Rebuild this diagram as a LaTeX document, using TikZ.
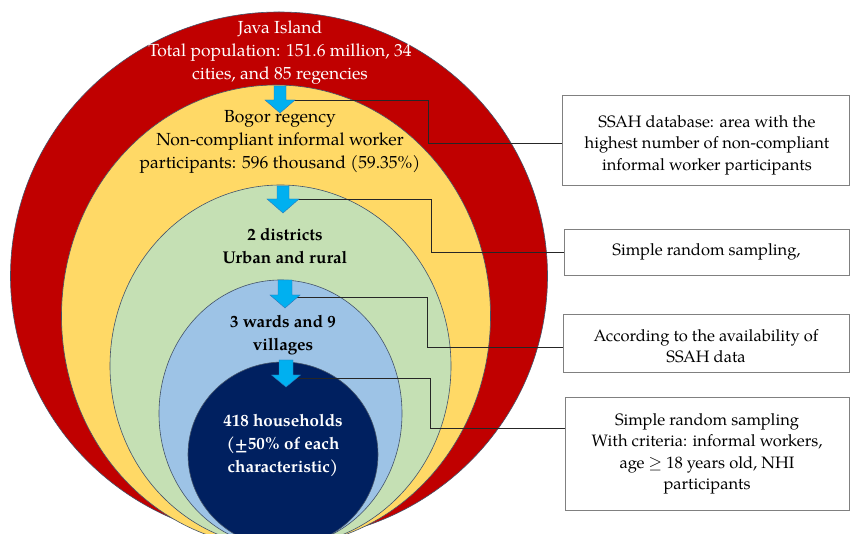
\documentclass[tikz,border=0pt]{standalone}
\usepackage{fontspec}
\setmainfont{TeX Gyre Pagella}
\definecolor{jred}{HTML}{C00000}
\definecolor{jyellow}{HTML}{FFD966}
\definecolor{jgreen}{HTML}{C5E0B4}
\definecolor{jblue}{HTML}{9DC3E6}
\definecolor{jnavy}{HTML}{002060}
\definecolor{jcyan}{HTML}{00B0F0}
\definecolor{jedge}{HTML}{44546A}
\definecolor{jarrowedge}{HTML}{2E75B6}
\newcommand\blockarrow[6]{% cx, top, headstart, tip, shaft half, head half
  \path[downarrow] (#1-#5,#2) -- (#1+#5,#2) -- (#1+#5,#3) -- (#1+#6,#3) -- (#1,#4)
    -- (#1-#6,#3) -- (#1-#5,#3) -- cycle;}
\begin{document}
\begin{tikzpicture}[x=1pt,y=1pt,
  ring/.style={draw=jedge, line width=0.6pt},
  lbl/.style={align=center, font=\fontsize{17.5}{22.8}\selectfont, inner sep=0pt},
  blbl/.style={lbl, font=\bfseries\fontsize{17}{23}\selectfont},
  infobox/.style={draw=black!50, line width=0.9pt, inner sep=0pt},
  boxtext/.style={align=center, font=\fontsize{16.5}{21.5}\selectfont, inner sep=0pt},
  link/.style={draw=black!85, line width=0.7pt},
  downarrow/.style={fill=jcyan, draw=jarrowedge, line width=0.4pt}
]
\useasboundingbox (0,0) rectangle (851,533);
\fill[white] (0,0) rectangle (851,533);
\begin{scope}
\clip (0,0) rectangle (851,533);
\draw[ring, fill=jred]    (279,257)   ellipse [x radius=268.5, y radius=264];
\draw[ring, fill=jyellow] (276,217)   ellipse [x radius=214.5, y radius=231];
\draw[ring, fill=jgreen]  (280.5,167) ellipse [x radius=170.5, y radius=181];
\draw[ring, fill=jblue]   (280.5,119.5) ellipse [x radius=121.5, y radius=133.5];
\draw[ring, fill=jnavy]   (283,78.5)  ellipse [x radius=95, y radius=92.5];
\end{scope}

% labels inside rings
\node[lbl, text=white] (java) at (280,480.5) {Java Island\\Total population: 151.6 million, 34\\cities, and 85 regencies};
\node[lbl] (bogor) at (280,391) {Bogor regency\\Non-compliant informal worker\\participants: 596 thousand (59.35\%)};
\node[blbl] (dist) at (285,287) {2 districts\\Urban and rural};
\node[blbl] (wards) at (283,198) {3 wards and 9\\villages};
\node[blbl, text=white] (hh) at (283,87.5) {418 households\\(±50\% of each\\characteristic)};

% boxes
\node[infobox, minimum width=287, minimum height=90] (b1) at (705.5,393) {};
\node[boxtext] (t1) at (707,388) {SSAH database: area with the\\highest number of non-compliant\\informal worker participants};
\node[infobox, minimum width=285, minimum height=46] (b2) at (706.5,281) {};
\node[boxtext] (t2) at (706.5,281) {Simple random sampling,};
\node[infobox, minimum width=286, minimum height=58] (b3) at (706,190) {};
\node[boxtext] (t3) at (706,187) {According to the availability of\\SSAH data};
\node[infobox, minimum width=284, minimum height=113] (b4) at (707,79.5) {};
\node[boxtext] (t4) at (707,79) {Simple random sampling\\With criteria: informal workers,\\age $\geq$ 18 years old, NHI\\participants};

% connectors
\coordinate (a1) at (286,433); \coordinate (k1) at (428,390);
\coordinate (a2) at (289,334); \coordinate (k2) at (431,281);
\coordinate (a3) at (292,236); \coordinate (k3) at (427,186);
\coordinate (a4) at (293,155); \coordinate (k4) at (430,105);
\draw[link] (a1) -| (k1) -- (b1.west |- k1);
\draw[link] (a2) -| (k2) -- (b2.west |- k2);
\draw[link] (a3) -| (k3) -- (b3.west |- k3);
\draw[link] (a4) -| (k4) -- (b4.west |- k4);

% arrows
\blockarrow{280}{447}{433}{420}{6}{15}
\blockarrow{283}{347}{334}{320}{6}{16}
\blockarrow{285}{253}{238}{225}{7}{15}
\blockarrow{286}{173}{158}{146}{7}{14.5}
\end{tikzpicture}
\end{document}
